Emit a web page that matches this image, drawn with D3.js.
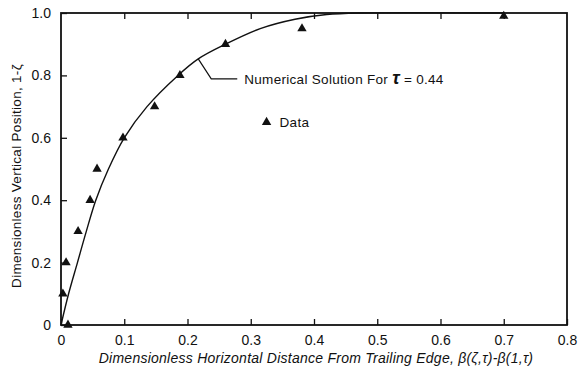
<!DOCTYPE html>
<html>
<head>
<meta charset="utf-8">
<script src="https://cdn.jsdelivr.net/npm/d3@7"></script>
<style>
  html, body { margin: 0; padding: 0; background: #fff; }
  svg text { font-family: "Liberation Sans", Arial, sans-serif; fill: #111; }
</style>
</head>
<body>
<div id="chart" style="width:581px;height:371px"></div>
<script>
// measured points (triangles)
const dataX = [0.003, 0.008, 0.011, 0.027, 0.046, 0.057, 0.098, 0.148, 0.188, 0.26, 0.381, 0.70];
const dataY = [0.10, 0.20, 0.00, 0.30, 0.40, 0.50, 0.60, 0.70, 0.80, 0.90, 0.95, 0.99];

// numerical solution, tau = 0.44
const solX = [0, 0.012, 0.026, 0.04, 0.055, 0.075, 0.10, 0.136, 0.185, 0.217, 0.26, 0.315, 0.37, 0.42, 0.47, 0.70];
const solY = [0, 0.10, 0.20, 0.30, 0.40, 0.50, 0.60, 0.70, 0.80, 0.853, 0.90, 0.95, 0.98, 0.995, 1.0, 1.0];

const xTicks = [0, 0.1, 0.2, 0.3, 0.4, 0.5, 0.6, 0.7, 0.8];
const yTicks = [0, 0.2, 0.4, 0.6, 0.8, 1.0];

const $c = d3.select("#chart");
const W = 581, H = 371;
const margin = { top: 13, right: 14, bottom: 46, left: 61 };
const width = W - margin.left - margin.right;
const height = H - margin.top - margin.bottom;

const svg = $c.append("svg").attr("width", W).attr("height", H)
  .append("g").attr("transform", `translate(${margin.left},${margin.top})`);

const x = d3.scaleLinear().domain([0, 0.8]).range([0, width]);
const y = d3.scaleLinear().domain([0, 1]).range([height, 0]);

const fmt = d => d === 0 ? "0" : d3.format(".1f")(d);

// bottom axis, ticks pointing in
const gx = svg.append("g").attr("transform", `translate(0,${height})`)
  .call(d3.axisBottom(x).tickValues(xTicks).tickSize(-6).tickPadding(10).tickFormat(fmt));
gx.selectAll("text").style("font-size", "14px");

// top ticks
svg.append("g")
  .call(d3.axisTop(x).tickValues(xTicks.slice(1, -1)).tickSize(-6).tickFormat(""));

// left axis
const gy = svg.append("g")
  .call(d3.axisLeft(y).tickValues(yTicks).tickSize(-6).tickPadding(10).tickFormat(fmt));
gy.selectAll("text").style("font-size", "14px");

svg.selectAll(".domain").remove();
svg.selectAll(".tick line").attr("stroke", "#111").attr("stroke-width", 1.3);

// frame
svg.append("rect")
  .attr("x", 0).attr("y", 0).attr("width", width).attr("height", height)
  .attr("fill", "none").attr("stroke", "#111").attr("stroke-width", 1.8);

// solution curve
svg.append("path")
  .datum(solY)
  .attr("d", d3.line().x((d, i) => x(solX[i])).y(d => y(d)).curve(d3.curveCatmullRom.alpha(0.5)))
  .attr("fill", "none")
  .attr("stroke", "#111")
  .attr("stroke-width", 1.4);

// triangles
const tri = d3.symbol().type(d3.symbolTriangle).size(38);
svg.selectAll(".pt")
  .data(dataX)
  .join("path")
  .attr("class", "pt")
  .attr("d", tri)
  .attr("transform", (d, i) => `translate(${x(d)},${y(dataY[i])})`)
  .attr("fill", "#111");

// leader to the curve label
const attachX = 0.217, attachY = 0.853;
const lx = x(attachX), ly = y(attachY);
svg.append("path")
  .attr("d", `M${lx},${ly} L${lx + 13},${ly + 20} L${lx + 39},${ly + 20}`)
  .attr("fill", "none").attr("stroke", "#111").attr("stroke-width", 1.2);

const lab = svg.append("text")
  .attr("x", lx + 46).attr("y", ly + 25)
  .style("font-size", "13.5px")
  .style("letter-spacing", "0.3px");
lab.append("tspan").text("Numerical Solution For ");
lab.append("tspan").text("τ").style("font-style", "italic").style("font-size", "18px").style("font-weight", "bold");
lab.append("tspan").text(" = 0.44");

// data legend
const legX = 0.325, legY = 0.65;
svg.append("path")
  .attr("d", tri)
  .attr("transform", `translate(${x(legX)},${y(legY)})`)
  .attr("fill", "#111");
svg.append("text")
  .attr("x", x(legX) + 13).attr("y", y(legY) + 5)
  .style("font-size", "13.5px")
  .style("letter-spacing", "0.3px")
  .text("Data");

// axis titles
svg.append("text")
  .attr("x", width / 2 + 2).attr("y", height + 38)
  .attr("text-anchor", "middle")
  .style("font-size", "14px").style("font-style", "italic")
  .style("letter-spacing", "0.25px")
  .text("Dimensionless  Horizontal  Distance  From  Trailing  Edge,  β(ζ,τ)-β(1,τ)");

svg.append("text")
  .attr("transform", `translate(${-40},${163}) rotate(-90)`)
  .attr("text-anchor", "middle")
  .style("font-size", "13.5px")
  .style("letter-spacing", "0.3px")
  .text("Dimensionless  Vertical  Position,  1-ζ");
</script>
</body>
</html>
